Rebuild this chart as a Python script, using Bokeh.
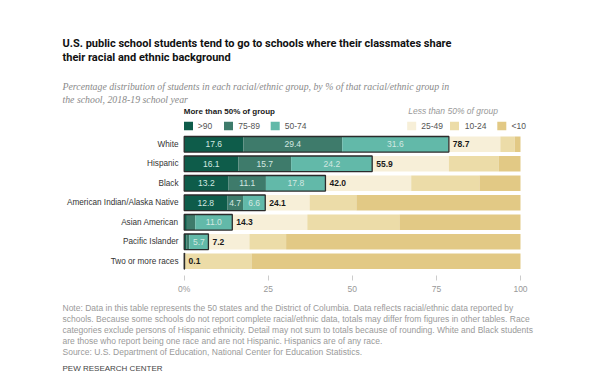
from bokeh.plotting import figure
from bokeh.models import ColumnDataSource, Range1d, FixedTicker, Title
from bokeh.core.properties import value
from bokeh.embed import file_html
from bokeh.resources import INLINE

# ---------------- data ----------------
groups = ["White", "Hispanic", "Black", "American Indian/Alaska Native",
          "Asian American", "Pacific Islander", "Two or more races"]
gt90 = [17.6, 16.1, 13.2, 12.8, 0.8, 0.6, 0.0]
p75_89 = [29.4, 15.7, 11.1, 4.7, 2.5, 0.9, 0.0]
p50_74 = [31.6, 24.2, 17.8, 6.6, 11.0, 5.7, 0.1]
totals = [78.7, 55.9, 42.0, 24.1, 14.3, 7.2, 0.1]
p25_49 = [15.3, 22.8, 25.5, 13.2, 22.3, 12.2, 0.0]
p10_24 = [4.3, 14.8, 20.3, 13.9, 27.4, 10.9, 19.9]
lt10 = [1.7, 6.5, 12.2, 48.8, 36.0, 69.7, 80.0]
major_labels = [">90", "75-89", "50-74"]
minor_labels = ["25-49", "10-24", "<10"]
ticks = [0, 25, 50, 75, 100]
tick_labels = ["0%", "25", "50", "75", "100"]

title_lines = ["U.S. public school students tend to go to schools where their classmates share",
               "their racial and ethnic background"]
subtitle_lines = ["Percentage distribution of students in each racial/ethnic group, by % of that racial/ethnic group in",
                  "the school, 2018-19 school year"]
notes = [
    "Note: Data in this table represents the 50 states and the District of Columbia. Data reflects racial/ethnic data reported by",
    "schools. Because some schools do not report complete racial/ethnic data, totals may differ from figures in other tables. Race",
    "categories exclude persons of Hispanic ethnicity. Detail may not sum to totals because of rounding. White and Black students",
    "are those who report being one race and are not Hispanic. Hispanics are of any race.",
    "Source: U.S. Department of Education, National Center for Education Statistics.",
]
credit = "PEW RESEARCH CENTER"

green_cols = ["#0e5c4a", "#3e7b6b", "#62b9a9"]
beige_cols = ["#f7efd8", "#ecdca8", "#e2c985"]

SANS = "'Liberation Sans', Arial, sans-serif"
TITLE_FONT = "Roboto"
SERIF = "'Liberation Serif', serif"

# ---- layout helpers (pixel -> data, for annotation placement only) ----
X0, XPX = 183.7, 3.363      # pixel of x=0, px per unit
Y0, YPX = 143.8, 19.5       # pixel of first row centre, px per row
W, H = 584, 384
FRAME_BOTTOM = 275


def dx(px):
    return (px - X0) / XPX


def dy(py):
    return (py - Y0) / YPX


rows = list(range(len(groups)))

p = figure(width=W, height=H, output_backend="svg", toolbar_location=None,
           x_range=Range1d(dx(0), dx(W)), y_range=Range1d(dy(FRAME_BOTTOM), dy(0)),
           y_axis_location=None,
           min_border_left=0, min_border_right=0, min_border_top=0,
           min_border_bottom=H - FRAME_BOTTOM)
p.outline_line_color = None
p.xgrid.visible = False
p.ygrid.visible = False
p.background_fill_color = "white"

# ---- green (>50%) segments ----
left = [0.0] * len(rows)
for vals, col in zip([gt90, p75_89, p50_74], green_cols):
    right = [l + v for l, v in zip(left, vals)]
    src = ColumnDataSource(dict(y=rows, left=left, right=right,
                                mid=[(l + r) / 2 for l, r in zip(left, right)],
                                lab=[("%.1f" % v) if v >= 4 else "" for v in vals]))
    p.hbar(y="y", left="left", right="right", height=0.8, source=src,
           fill_color=col, line_color=None)
    p.text(x="mid", y="y", text="lab", source=src, text_align="center",
           text_baseline="middle", text_color="#d3e8e1", text_font=value(SANS),
           text_font_size="8.5px")
    left = right

# ---- beige (<50%) segments, starting at total ----
left = list(totals)
for vals, col in zip([p25_49, p10_24, lt10], beige_cols):
    right = [l + v for l, v in zip(left, vals)]
    p.hbar(y=rows, left=left, right=right, height=0.8, fill_color=col,
           line_color=None)
    left = right

# outline of the >50% part
p.hbar(y=rows, left=0, right=totals, height=0.8, fill_alpha=0,
       line_color="#2b2b2b", line_width=1.3)

# totals
p.text(x=totals, y=rows, text=["%.1f" % t for t in totals], x_offset=4,
       text_align="left", text_baseline="middle", text_color="#1a1a1a",
       text_font=value(SANS), text_font_style="bold", text_font_size="8.5px")

# category labels
p.text(x=[dx(178)] * len(rows), y=rows, text=groups, text_align="right",
       text_baseline="middle", text_color="#333333", text_font=value(SANS),
       text_font_size="8.2px")

# ---- title and subtitle ----
p.text(x=[dx(62)] * 2, y=[dy(42.5), dy(57)], text=title_lines,
       text_align="left", text_baseline="alphabetic", text_color="#111111",
       text_font=value(TITLE_FONT), text_font_style="bold", text_font_size="11px")
p.text(x=[dx(62)] * 2, y=[dy(86), dy(98.5)], text=subtitle_lines,
       text_align="left", text_baseline="alphabetic", text_color="#8a8a8a",
       text_font=value(SERIF), text_font_style="italic", text_font_size="9.8px")

# ---- legend ----
hdr_y = dy(110.7)
leg_y = dy(125.5)
p.text(x=[dx(183.3)], y=[hdr_y], text=["More than 50% of group"], text_align="left",
       text_baseline="middle", text_color="#1a1a1a", text_font=value(SANS),
       text_font_style="bold", text_font_size="8px")
p.text(x=[dx(407.7)], y=[hdr_y], text=["Less than 50% of group"], text_align="left",
       text_baseline="middle", text_color="#999999", text_font=value(SANS),
       text_font_style="italic", text_font_size="8.5px")
sq_x = [dx(v) for v in (188.0, 228.0, 274.7, 411.2, 454.0, 501.3)]
tx_x = [dx(v) for v in (197.3, 237.7, 284.3, 420.7, 464.3, 511.0)]
p.rect(x=sq_x, y=[leg_y] * 6, width=9, height=8.5, width_units="screen",
       height_units="screen", fill_color=green_cols + beige_cols, line_color=None)
p.text(x=tx_x, y=[leg_y] * 6, text=major_labels + minor_labels, text_align="left",
       text_baseline="middle", text_color="#555555", text_font=value(SANS),
       text_font_size="8.5px")

# ---- x axis ----
ax = p.xaxis[0]
ax.ticker = FixedTicker(ticks=ticks)
ax.major_label_overrides = {t: l for t, l in zip(ticks, tick_labels)}
ax.axis_line_color = None
ax.major_tick_in = 0
ax.major_tick_out = 5
ax.major_tick_line_color = "#cccccc"
ax.minor_tick_line_color = None
ax.major_label_text_color = "#999999"
ax.major_label_text_font = SANS
ax.major_label_text_font_size = "8.5px"
ax.major_label_standoff = 3

# ---- notes (below the axis) ----
p.add_layout(Title(text="\n".join(notes), align="left", text_font_size="8.5px",
                   text_color="#9a9a9a", text_font=SANS, text_font_style="normal",
                   text_line_height=1.1, standoff=9, offset=62), "below")
p.add_layout(Title(text=credit, align="left", text_font_size="8px",
                   text_color="#444444", text_font=SANS, text_font_style="normal",
                   standoff=0, offset=62), "below")

open("out.html", "w").write(file_html(p, INLINE))
